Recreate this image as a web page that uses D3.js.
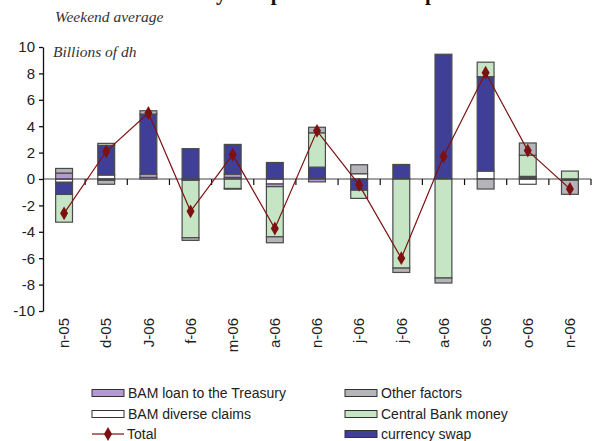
<!DOCTYPE html>
<html lang="en">
<head>
<meta charset="UTF-8">
<title>Weekend average</title>
<script src="https://d3js.org/d3.v7.min.js"></script>
<style>
  body { margin: 0; background: #fff; }
  svg { display: block; }
</style>
</head>
<body>
<script>
  // categories (months), several share the same label
  const months = ["n-05", "d-05", "J-06", "f-06", "m-06", "a-06", "n-06", "j-06", "j-06", "a-06", "s-06", "o-06", "n-06"];

  // components, billions of dh
  const diverseClaims = [-0.25, 0.3, 0.12, -0.1, 0.12, -0.38, 0.1, 0.4, 0, 0, 0.6, -0.4, 0];
  const treasuryLoan = [0.45, -0.1, 0.25, 0, 0.25, -0.2, -0.22, 0, 0, 0, 0, 0.1, 0];
  const currencySwap = [-0.92, 2.25, 4.55, 2.3, 2.25, 1.25, 0.8, -0.85, 1.1, 9.45, 7.15, 0.1, -0.1];
  const centralBankMoney = [-2.1, 0.15, 0, -4.35, -0.72, -3.8, 2.6, -0.62, -6.75, -7.5, 1.1, 1.6, 0.6];
  const otherFactors = [0.35, -0.3, 0.25, -0.2, -0.05, -0.45, 0.42, 0.68, -0.33, -0.38, -0.76, 0.93, -1.06];
  const total = [-2.6, 2.1, 5.0, -2.45, 1.85, -3.75, 3.65, -0.45, -6.0, 1.7, 8.05, 2.15, -0.75];

  const yTicks = [10, 8, 6, 4, 2, 0, -2, -4, -6, -8, -10];

  const keys = ["diverse", "loan", "swap", "cbm", "other"];
  const colors = {
    diverse: "#ffffff",
    loan: "#b49ad4",
    swap: "#3f3f98",
    cbm: "#c6e5c4",
    other: "#b5b5b9"
  };
  const totalColor = "#7d1111";

  const width = 594, height = 441;
  const plotLeft = 43, plotRight = 591, plotTop = 47, plotBottom = 311;

  const rows = months.map((m, i) => ({
    i: i,
    diverse: diverseClaims[i],
    loan: treasuryLoan[i],
    swap: currencySwap[i],
    cbm: centralBankMoney[i],
    other: otherFactors[i]
  }));

  const svg = d3.select("body").append("svg")
    .attr("width", width)
    .attr("height", height);

  const x = d3.scaleBand()
    .domain(d3.range(months.length))
    .range([plotLeft, plotRight])
    .paddingInner(0.6)
    .paddingOuter(0.3);

  const y = d3.scaleLinear().domain([-10, 10]).range([plotBottom, plotTop]);

  // title, mostly above the picture: only the descenders show
  const title = svg.append("text")
    .attr("y", 0)
    .attr("font-family", "Liberation Serif, serif")
    .attr("font-weight", "bold")
    .attr("font-size", 21)
    .attr("fill", "#111")
    .text("Banks' treasury and position over the period");
  const yPos = title.node().getStartPositionOfChar(title.text().indexOf("y")).x;
  title.attr("x", 216 - yPos);

  svg.append("text")
    .attr("x", 55).attr("y", 22)
    .attr("font-family", "Liberation Serif, serif")
    .attr("font-style", "italic")
    .attr("font-size", 15.5)
    .attr("fill", "#333")
    .text("Weekend average");

  svg.append("text")
    .attr("x", 53).attr("y", 57)
    .attr("font-family", "Liberation Serif, serif")
    .attr("font-style", "italic")
    .attr("font-size", 15.5)
    .attr("fill", "#333")
    .text("Billions of dh");

  // stacked bars, positives up and negatives down
  const series = d3.stack().keys(keys).offset(d3.stackOffsetDiverging)(rows);

  svg.append("g")
    .selectAll("g")
    .data(series)
    .join("g")
    .attr("fill", d => colors[d.key])
    .selectAll("rect")
    .data(d => d.filter(p => p[1] !== p[0]))
    .join("rect")
    .attr("x", d => x(d.data.i))
    .attr("width", x.bandwidth())
    .attr("y", d => y(Math.max(d[0], d[1])))
    .attr("height", d => Math.abs(y(d[0]) - y(d[1])))
    .attr("stroke", "#4a4a4a")
    .attr("stroke-width", 1.2);

  // zero line with ticks between the months
  svg.append("line")
    .attr("x1", plotLeft).attr("x2", plotRight)
    .attr("y1", y(0)).attr("y2", y(0))
    .attr("stroke", "#444")
    .attr("stroke-width", 1.2);

  svg.append("g")
    .selectAll("line")
    .data(d3.range(1, months.length + 1))
    .join("line")
    .attr("x1", i => plotLeft + i * x.step())
    .attr("x2", i => plotLeft + i * x.step())
    .attr("y1", y(0))
    .attr("y2", y(0) + 6)
    .attr("stroke", "#111")
    .attr("stroke-width", 1.2);

  // y axis, plain hyphen for negatives
  const yAxis = svg.append("g")
    .attr("transform", `translate(${plotLeft},0)`)
    .call(d3.axisLeft(y).tickValues(yTicks).tickFormat(d => String(d))
      .tickSize(4).tickPadding(4).tickSizeOuter(0));
  yAxis.select(".domain").attr("stroke", "#111").attr("stroke-width", 1.3);
  yAxis.selectAll(".tick line").attr("stroke", "#111").attr("stroke-width", 1.3);
  yAxis.selectAll("text")
    .attr("font-family", "Liberation Sans, Arial, sans-serif")
    .attr("font-size", 15)
    .attr("fill", "#222");

  // month labels
  svg.append("g")
    .selectAll("text")
    .data(months)
    .join("text")
    .attr("transform", (d, i) => `translate(${x(i) + x.bandwidth() / 2},318) rotate(-90)`)
    .attr("text-anchor", "end")
    .attr("dy", "0.35em")
    .attr("font-family", "Liberation Sans, Arial, sans-serif")
    .attr("font-size", 15)
    .attr("fill", "#222")
    .text(d => d);

  // total line with diamonds
  const line = d3.line()
    .x((d, i) => x(i) + x.bandwidth() / 2)
    .y(d => y(d));

  svg.append("path")
    .datum(total)
    .attr("d", line)
    .attr("fill", "none")
    .attr("stroke", totalColor)
    .attr("stroke-width", 1.2);

  const diamond = d3.symbol().type(d3.symbolDiamond).size(55);

  svg.append("g")
    .selectAll("path")
    .data(total)
    .join("path")
    .attr("transform", (d, i) => `translate(${x(i) + x.bandwidth() / 2},${y(d)})`)
    .attr("d", diamond)
    .attr("fill", totalColor);

  // legend
  const legendItems = [
    { label: "BAM loan to the Treasury", fill: colors.loan, col: 0, row: 0 },
    { label: "BAM diverse claims", fill: colors.diverse, col: 0, row: 1 },
    { label: "Total", line: true, col: 0, row: 2 },
    { label: "Other factors", fill: colors.other, col: 1, row: 0 },
    { label: "Central Bank money", fill: colors.cbm, col: 1, row: 1 },
    { label: "currency swap", fill: colors.swap, col: 1, row: 2 }
  ];
  const colX = [92, 345];
  const rowY = [393, 414, 434];

  const legend = svg.append("g")
    .selectAll("g")
    .data(legendItems)
    .join("g")
    .attr("transform", d => `translate(${colX[d.col]},${rowY[d.row]})`);

  legend.filter(d => !d.line).append("rect")
    .attr("x", 0).attr("y", -3.5)
    .attr("width", 32).attr("height", 7)
    .attr("fill", d => d.fill)
    .attr("stroke", "#333")
    .attr("stroke-width", 1);

  legend.filter(d => d.line).append("line")
    .attr("x1", 0).attr("x2", 32)
    .attr("stroke", totalColor)
    .attr("stroke-width", 1.2);

  legend.filter(d => d.line).append("path")
    .attr("transform", "translate(16,0)")
    .attr("d", diamond)
    .attr("fill", totalColor);

  legend.append("text")
    .attr("x", d => d.line ? 35 : 36)
    .attr("dy", "0.36em")
    .attr("font-family", "Liberation Sans, Arial, sans-serif")
    .attr("font-size", 14)
    .attr("fill", "#222")
    .text(d => d.label);
</script>
</body>
</html>
